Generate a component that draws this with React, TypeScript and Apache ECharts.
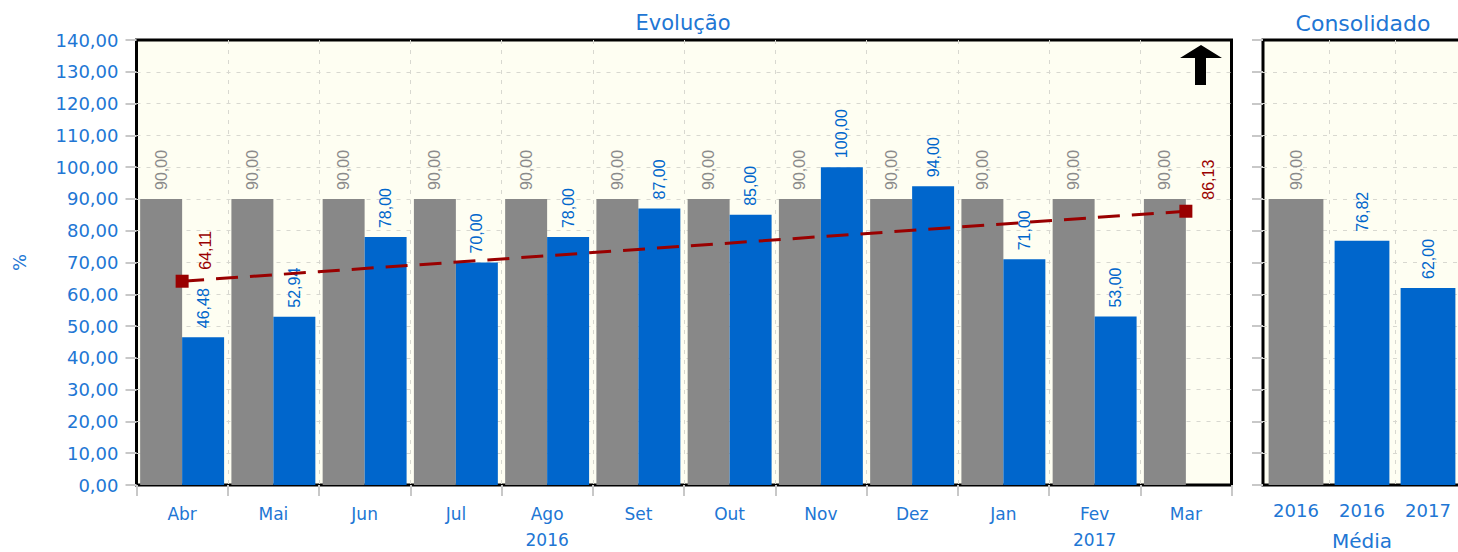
import React, { useEffect, useRef } from "react";
import * as echarts from "echarts";

const months = ["Abr", "Mai", "Jun", "Jul", "Ago", "Set", "Out", "Nov", "Dez", "Jan", "Fev", "Mar"];
const yearLabels = ["", "", "", "", "2016", "", "", "", "", "", "2017", ""];
const metaValues = [90, 90, 90, 90, 90, 90, 90, 90, 90, 90, 90, 90];
const realValues: (number | null)[] = [46.48, 52.94, 78, 70, 78, 87, 85, 100, 94, 71, 53, null];
const trendValues: (number | null)[] = [64.11, null, null, null, null, null, null, null, null, null, null, 86.13];

const consCategories = ["2016", "2016", "2017"];
const consValues = [90, 76.82, 62.0];
const consKinds = ["meta", "real", "real"];

const yTicks = { min: 0, max: 140, interval: 10 };

const BLUE_TEXT = "#2176d4";
const BLUE_BAR = "#0066cc";
const GRAY_BAR = "#888888";
const RED = "#990000";
const BG = "#fefef2";
const FONT = "DejaVu Sans";
const LABEL_FONT = "Liberation Sans";

const fmt = (v: number) => v.toFixed(2).replace(".", ",");

export default function App() {
  const ref = useRef<HTMLDivElement>(null);
  useEffect(() => {
    if (!ref.current) return;
    const chart = echarts.init(ref.current, undefined, { renderer: "svg" });
    const splitLine = {
      show: true,
      showMinLine: false,
      showMaxLine: false,
      lineStyle: { color: "#d8d8d0", type: [4, 6] as any, width: 1 },
    };
    const tick = { show: true, length: 11, lineStyle: { color: "#c8c8c8", width: 2 } };
    const yAxisBase = {
      type: "value" as const,
      min: yTicks.min,
      max: yTicks.max,
      interval: yTicks.interval,
      axisLine: { show: false },
      axisTick: tick,
      splitLine,
    };
    const barLabel = (color: string) => ({
      show: true,
      position: "top" as const,
      rotate: 90,
      align: "left" as const,
      verticalAlign: "middle" as const,
      distance: 9,
      color,
      fontFamily: LABEL_FONT,
      fontSize: 16,
      formatter: (p: any) => (p.value == null ? "" : fmt(p.value)),
    });
    const option: any = {
      animation: false,
      backgroundColor: "#ffffff",
      grid: [
        {
          left: 136.5, top: 40, width: 1095, height: 445,
          outerBoundsMode: "none", containLabel: false,
          show: true, backgroundColor: BG, borderColor: "#000", borderWidth: 3,
        },
        {
          left: 1263, top: 40, width: 198, height: 445,
          outerBoundsMode: "none", containLabel: false,
          show: true, backgroundColor: BG, borderColor: "#000", borderWidth: 3,
        },
      ],
      xAxis: [
        {
          type: "category",
          gridIndex: 0,
          data: months,
          axisLine: { show: false },
          axisTick: tick,
          splitLine,
          axisLabel: {
            color: BLUE_TEXT, fontFamily: FONT, fontSize: 17, margin: 16, lineHeight: 26,
            formatter: (v: string, i: number) => (yearLabels[i] ? v + "\n" + yearLabels[i] : v),
          },
        },
        {
          type: "category",
          gridIndex: 1,
          data: consCategories,
          axisLine: { show: false },
          axisTick: { show: false },
          splitLine,
          axisLabel: { color: BLUE_TEXT, fontFamily: FONT, fontSize: 18, margin: 16 },
          name: "Média",
          nameLocation: "middle",
          nameGap: 46,
          nameTextStyle: { color: BLUE_TEXT, fontFamily: FONT, fontSize: 20 },
        },
      ],
      yAxis: [
        {
          ...yAxisBase,
          gridIndex: 0,
          axisLabel: { color: BLUE_TEXT, fontFamily: FONT, fontSize: 18, margin: 18, formatter: (v: number) => fmt(v) },
          name: "%",
          nameLocation: "middle",
          nameGap: 108,
          nameRotate: 90,
          nameTextStyle: { color: BLUE_TEXT, fontFamily: FONT, fontSize: 18 },
        },
        {
          ...yAxisBase,
          gridIndex: 1,
          axisLabel: { show: false },
        },
      ],
      graphic: [
        {
          type: "text", x: 683, y: 23,
          style: { text: "Evolução", align: "center", verticalAlign: "middle", fill: BLUE_TEXT, font: `21px "${FONT}"` },
        },
        {
          type: "text", x: 1363, y: 23,
          style: { text: "Consolidado", align: "center", verticalAlign: "middle", fill: BLUE_TEXT, font: `22px "${FONT}"` },
        },
        {
          type: "polygon",
          z: 100,
          shape: { points: [[1201, 45], [1222, 58], [1206, 58], [1206, 85], [1195, 85], [1195, 58], [1180, 58]] },
          style: { fill: "#000" },
        },
      ],
      series: [
        {
          name: "Meta",
          type: "bar",
          xAxisIndex: 0, yAxisIndex: 0,
          data: metaValues,
          barGap: "0%",
          barCategoryGap: "8%",
          itemStyle: { color: GRAY_BAR },
          label: barLabel("#8a8a8a"),
        },
        {
          name: "Realizado",
          type: "bar",
          xAxisIndex: 0, yAxisIndex: 0,
          data: realValues,
          barGap: "0%",
          barCategoryGap: "8%",
          itemStyle: { color: BLUE_BAR },
          label: barLabel(BLUE_BAR),
        },
        {
          name: "Tendência",
          type: "line",
          xAxisIndex: 0, yAxisIndex: 0,
          data: trendValues,
          connectNulls: true,
          symbol: "rect",
          symbolSize: 13,
          z: 5,
          itemStyle: { color: RED },
          lineStyle: { color: RED, width: 3, type: [22, 12] },
          label: {
            show: true,
            position: "top",
            distance: 5,
            offset: [0, 23],
            rotate: 90,
            align: "left",
            verticalAlign: "middle",
            color: RED,
            fontFamily: LABEL_FONT,
            fontSize: 16,
            formatter: (p: any) => (p.value == null ? "" : fmt(p.value)),
          },
        },
        {
          name: "Consolidado",
          type: "bar",
          xAxisIndex: 1, yAxisIndex: 1,
          barCategoryGap: "17%",
          data: consValues.map((v, i) => ({
            value: v,
            itemStyle: { color: consKinds[i] === "meta" ? GRAY_BAR : BLUE_BAR },
            label: { color: consKinds[i] === "meta" ? "#8a8a8a" : BLUE_BAR },
          })),
          label: barLabel(BLUE_BAR),
        },
      ],
    };
    chart.setOption(option);
    return () => chart.dispose();
  }, []);
  return (
    <div
      ref={ref}
      style={{ position: "absolute", left: 0, top: 0, width: 1458, height: 552, background: "#fff" }}
    />
  );
}
